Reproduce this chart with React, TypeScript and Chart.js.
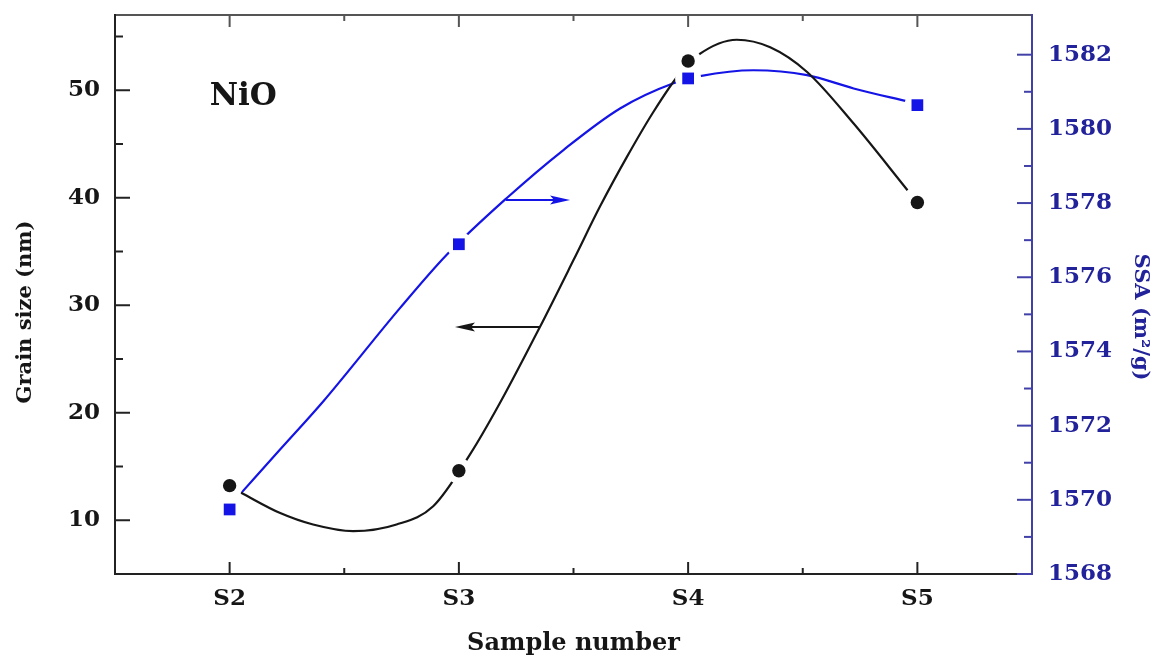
import React, { useEffect, useRef } from 'react';
import { Chart, registerables } from 'chart.js';

Chart.register(...registerables);

// ---- Data ----
const samples = ['S2', 'S3', 'S4', 'S5'];
const sampleIndex = [0, 1, 2, 3];
const sampleMinorTicks = [0.5, 1.5, 2.5];

const grainSize = [13.22, 14.61, 52.72, 39.56];
const ssa = [1569.74, 1576.89, 1581.36, 1580.64];

const grainFitX = [0.05, 0.218, 0.364, 0.539, 0.728, 0.888, 1.048, 1.179, 1.354, 1.5, 1.616, 1.733, 1.849, 1.965, 2.045, 2.212, 2.358, 2.519, 2.722, 2.957];
const grainFitY = [12.55, 10.69, 9.6, 8.98, 9.6, 11.3, 16.1, 20.9, 28.0, 34.2, 39.2, 43.8, 48.0, 51.6, 53.3, 54.7, 54.0, 51.7, 46.9, 40.7];

const ssaFitX = [0.05, 0.218, 0.408, 0.742, 0.946, 1.208, 1.456, 1.703, 1.936, 2.052, 2.285, 2.519, 2.722, 2.962];
const ssaFitY = [1570.18, 1571.34, 1572.65, 1575.16, 1576.6, 1578.13, 1579.43, 1580.55, 1581.23, 1581.42, 1581.58, 1581.45, 1581.09, 1580.73];

const grainTicks = [10, 20, 30, 40, 50];
const grainMinorTicks = [15, 25, 35, 45, 55];
const ssaTicks = [1568, 1570, 1572, 1574, 1576, 1578, 1580, 1582];
const ssaMinorTicks = [1569, 1571, 1573, 1575, 1577, 1579, 1581];

// arrows (data units): [start, end]
const grainArrowX = [1.354, 0.983];
const grainArrowY = [27.98, 27.98];
const ssaArrowX = [1.205, 1.485];
const ssaArrowY = [1578.08, 1578.08];

// label anchor (data units)
const labelText = 'NiO';
const labelX = -0.087;
const labelY = 48.6;

const FONT_FAMILY = '"DejaVu Serif", "Liberation Serif", serif';
const BLACK = '#161616';
const BLUE = '#1414e6';
const NAVY = '#22229a';
const BLUE_AXIS = '#4040a8';
const HALO_RADIUS = 13;

const toXY = (xs: number[], ys: number[]) => xs.map((x, i) => ({ x, y: ys[i] }));

// White gaps around the markers (drawn just before the marker datasets)
const markerHalos = {
  id: 'markerHalos',
  beforeDatasetDraw(chart: any, args: any) {
    if (args.index !== 1) return;
    const { ctx } = chart;
    ctx.save();
    ctx.fillStyle = '#ffffff';
    [0, 1].forEach((di) => {
      const meta = chart.getDatasetMeta(di);
      meta.data.forEach((pt: any) => {
        ctx.beginPath();
        ctx.arc(pt.x, pt.y, HALO_RADIUS, 0, Math.PI * 2);
        ctx.fill();
      });
    });
    ctx.restore();
  },
};

const inwardTicks = {
  id: 'inwardTicks',
  afterDraw(chart: any) {
    const { ctx, chartArea, scales } = chart;
    const { left, right, top, bottom } = chartArea;
    ctx.save();
    ctx.lineWidth = 2;
    const vline = (x: number, y0: number, y1: number, c: string) => {
      ctx.strokeStyle = c;
      ctx.beginPath();
      ctx.moveTo(x, y0);
      ctx.lineTo(x, y1);
      ctx.stroke();
    };
    const hline = (y: number, x0: number, x1: number, c: string) => {
      ctx.strokeStyle = c;
      ctx.beginPath();
      ctx.moveTo(x0, y);
      ctx.lineTo(x1, y);
      ctx.stroke();
    };
    sampleIndex.forEach((v) => {
      const px = scales.x.getPixelForValue(v);
      vline(px, bottom, bottom - 12, '#222');
      vline(px, top, top + 12, '#555');
    });
    sampleMinorTicks.forEach((v) => {
      const px = scales.x.getPixelForValue(v);
      vline(px, bottom, bottom - 6, '#222');
      vline(px, top, top + 6, '#555');
    });
    grainTicks.forEach((v) => hline(scales.y.getPixelForValue(v), left, left + 15, '#222'));
    grainMinorTicks.forEach((v) => hline(scales.y.getPixelForValue(v), left, left + 8, '#222'));
    ssaTicks.forEach((v) => hline(scales.y2.getPixelForValue(v), right, right - 15, BLUE_AXIS));
    ssaMinorTicks.forEach((v) => hline(scales.y2.getPixelForValue(v), right, right - 8, BLUE_AXIS));
    ctx.restore();
  },
};

const annotations = {
  id: 'annotations',
  afterDraw(chart: any) {
    const { ctx, scales } = chart;
    ctx.save();
    const drawArrow = (xs: number[], ys: number[], yScale: any, color: string, headLen: number, halfW: number) => {
      const x0 = scales.x.getPixelForValue(xs[0]);
      const x1 = scales.x.getPixelForValue(xs[1]);
      const y = yScale.getPixelForValue(ys[0]);
      const dir = x1 > x0 ? 1 : -1;
      ctx.strokeStyle = color;
      ctx.fillStyle = color;
      ctx.lineWidth = 2;
      ctx.beginPath();
      ctx.moveTo(x0, y);
      ctx.lineTo(x1 - dir * headLen * 0.7, y);
      ctx.stroke();
      ctx.beginPath();
      ctx.moveTo(x1, y);
      ctx.lineTo(x1 - dir * headLen, y - halfW);
      ctx.lineTo(x1 - dir * headLen * 0.8, y);
      ctx.lineTo(x1 - dir * headLen, y + halfW);
      ctx.closePath();
      ctx.fill();
    };
    drawArrow(grainArrowX, grainArrowY, scales.y, BLACK, 20, 4.5);
    drawArrow(ssaArrowX, ssaArrowY, scales.y2, BLUE, 20, 4.5);

    ctx.fillStyle = BLACK;
    ctx.font = `bold 31px ${FONT_FAMILY}`;
    ctx.textAlign = 'left';
    ctx.textBaseline = 'alphabetic';
    ctx.fillText(labelText, scales.x.getPixelForValue(labelX), scales.y.getPixelForValue(labelY));

    const ca = chart.chartArea;
    ctx.font = `bold 24px ${FONT_FAMILY}`;
    ctx.textAlign = 'center';
    ctx.fillStyle = BLACK;
    ctx.fillText('Sample number', (ca.left + ca.right) / 2, 650);

    ctx.font = `bold 21px ${FONT_FAMILY}`;
    ctx.textBaseline = 'middle';
    ctx.save();
    ctx.translate(26, 312);
    ctx.rotate(-Math.PI / 2);
    ctx.fillStyle = BLACK;
    ctx.fillText('Grain size (nm)', 0, 0);
    ctx.restore();

    ctx.save();
    ctx.translate(1140, 317);
    ctx.rotate(Math.PI / 2);
    ctx.fillStyle = NAVY;
    ctx.fillText('SSA (m\u00B2/g)', 0, 0);
    ctx.restore();

    ctx.restore();
  },
};

export default function App() {
  const canvasRef = useRef<HTMLCanvasElement | null>(null);

  useEffect(() => {
    if (!canvasRef.current) return;
    const tickFont = { family: FONT_FAMILY, size: 23, weight: 'bold' as const };
    const chart = new Chart(canvasRef.current, {
      type: 'line',
      data: {
        // datasets are drawn last-to-first: markers (index 0,1) end on top
        datasets: [
          {
            label: 'Grain size',
            data: toXY(sampleIndex, grainSize),
            xAxisID: 'x',
            yAxisID: 'y',
            showLine: false,
            pointStyle: 'circle',
            pointRadius: 6.7,
            pointBackgroundColor: BLACK,
            pointBorderColor: BLACK,
            pointBorderWidth: 0,
          },
          {
            label: 'SSA',
            data: toXY(sampleIndex, ssa),
            xAxisID: 'x',
            yAxisID: 'y2',
            showLine: false,
            pointStyle: 'rect',
            pointRadius: 8.3,
            pointBackgroundColor: BLUE,
            pointBorderColor: BLUE,
            pointBorderWidth: 0,
          },
          {
            label: 'Grain size fit',
            data: toXY(grainFitX, grainFitY),
            xAxisID: 'x',
            yAxisID: 'y',
            borderColor: BLACK,
            borderWidth: 2.2,
            pointRadius: 0,
            cubicInterpolationMode: 'monotone',
            fill: false,
          },
          {
            label: 'SSA fit',
            data: toXY(ssaFitX, ssaFitY),
            xAxisID: 'x',
            yAxisID: 'y2',
            borderColor: BLUE,
            borderWidth: 2.2,
            pointRadius: 0,
            cubicInterpolationMode: 'monotone',
            fill: false,
          },
        ],
      },
      options: {
        animation: false,
        responsive: false,
        layout: { padding: 0 },
        plugins: { legend: { display: false }, tooltip: { enabled: false }, title: { display: false } },
        scales: {
          x: {
            type: 'linear',
            position: 'bottom',
            min: -0.5,
            max: 3.5,
            afterBuildTicks: (s: any) => {
              s.ticks = sampleIndex.map((v) => ({ value: v }));
            },
            afterFit: (s: any) => {
              s.height = 87;
              s.paddingLeft = 0;
              s.paddingRight = 0;
            },
            grid: { display: false, drawTicks: false },
            border: { display: true, color: '#222', width: 2 },
            ticks: {
              font: tickFont,
              color: BLACK,
              padding: 11,
              maxRotation: 0,
              autoSkip: false,
              callback: (v: any) => samples[v] ?? '',
            },
          },
          xTop: {
            type: 'linear',
            position: 'top',
            min: -0.5,
            max: 3.5,
            afterFit: (s: any) => {
              s.height = 15;
              s.paddingLeft = 0;
              s.paddingRight = 0;
            },
            grid: { display: false, drawTicks: false },
            border: { display: true, color: '#555', width: 2 },
            ticks: { display: false },
          },
          y: {
            type: 'linear',
            position: 'left',
            min: 5,
            max: 57,
            afterBuildTicks: (s: any) => {
              s.ticks = grainTicks.map((v) => ({ value: v }));
            },
            afterFit: (s: any) => {
              s.width = 115;
              s.paddingTop = 0;
              s.paddingBottom = 0;
            },
            grid: { display: false, drawTicks: false },
            border: { display: true, color: '#222', width: 2 },
            ticks: { font: tickFont, color: BLACK, padding: 15, callback: (v: any) => String(v) },
          },
          y2: {
            type: 'linear',
            position: 'right',
            min: 1568,
            max: 1583.07,
            afterBuildTicks: (s: any) => {
              s.ticks = ssaTicks.map((v) => ({ value: v }));
            },
            afterFit: (s: any) => {
              s.width = 139;
              s.paddingTop = 0;
              s.paddingBottom = 0;
            },
            grid: { display: false, drawTicks: false },
            border: { display: true, color: BLUE_AXIS, width: 2 },
            ticks: { font: tickFont, color: NAVY, padding: 16, callback: (v: any) => String(v) },
          },
        },
      },
      plugins: [markerHalos, inwardTicks, annotations],
    });
    return () => chart.destroy();
  }, []);

  return (
    <div style={{ position: 'absolute', left: 0, top: 0, width: 1171, height: 661, background: '#fff' }}>
      <canvas ref={canvasRef} width={1171} height={661} />
    </div>
  );
}
